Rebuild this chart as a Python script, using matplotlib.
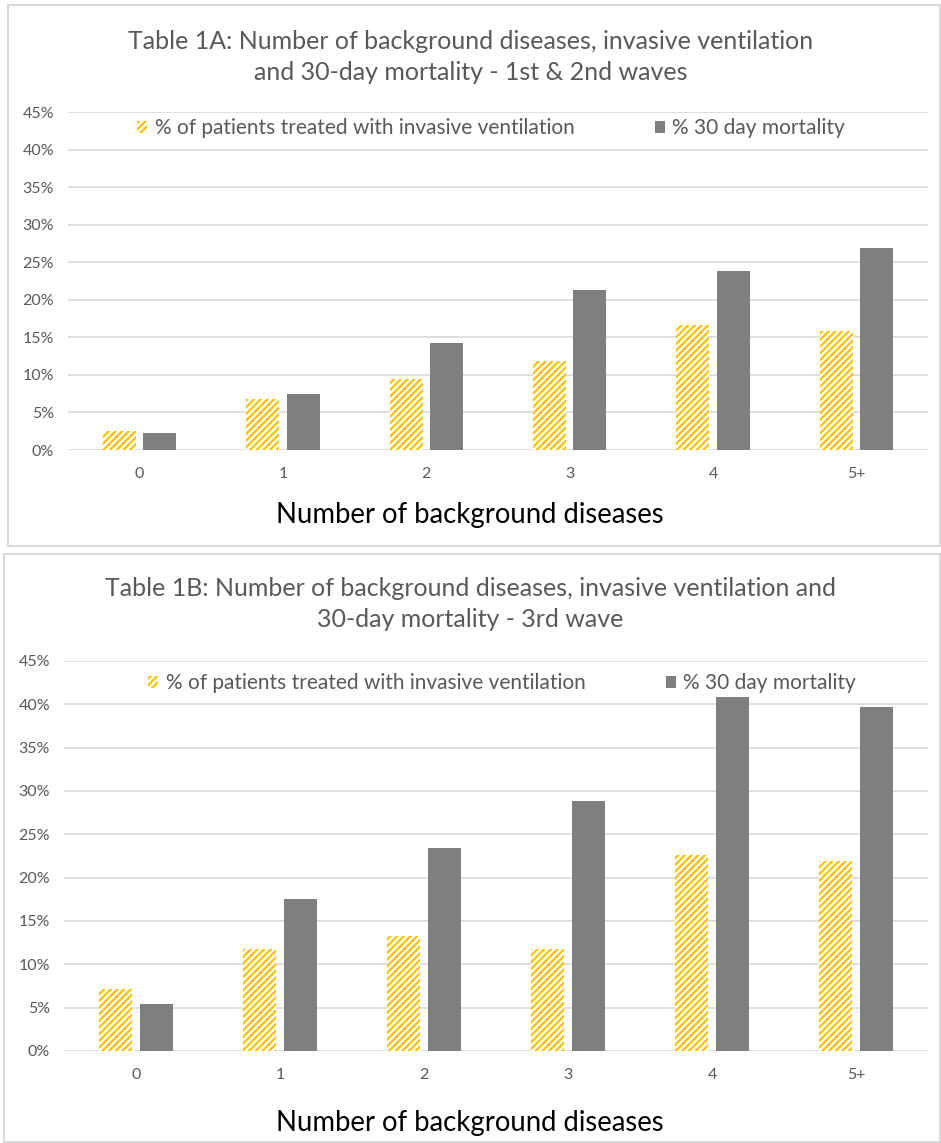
import numpy as np
import matplotlib.pyplot as plt
from matplotlib.patches import Rectangle, Patch

plt.rcParams['font.family'] = ['Lato', 'DejaVu Sans']
plt.rcParams['hatch.linewidth'] = 1.6

# data (percent)
categories = ['0', '1', '2', '3', '4', '5+']
vent_1a = [2.5, 6.8, 9.4, 11.8, 16.6, 15.9]
mort_1a = [2.2, 7.5, 14.2, 21.3, 23.8, 26.9]
vent_1b = [7.2, 11.8, 13.3, 11.8, 22.6, 21.9]
mort_1b = [5.4, 17.5, 23.4, 28.8, 40.8, 39.7]

title_1a = "Table 1A: Number of background diseases, invasive ventilation\nand 30-day mortality - 1st & 2nd waves"
title_1b = "Table 1B: Number of background diseases, invasive ventilation and\n30-day mortality - 3rd wave"
xlabel = "Number of background diseases"
lab_vent = "% of patients treated with invasive ventilation"
lab_mort = "% 30 day mortality"

yellow = '#FFC000'
grey = '#7F7F7F'
txt = '#595959'
W, H = 941, 1143

fig = plt.figure(figsize=(W / 100, H / 100), dpi=100)
fig.patch.set_facecolor('white')


def fx(px):
    return px / W


def fy(py):
    return 1 - py / H


def panel(rect, vent, mort, title, title_y, legend_xy, xlabel_y, box):
    ax = fig.add_axes(rect)
    x = np.arange(len(categories))
    ax.bar(x - 0.14, vent, width=0.23, color='white', edgecolor=yellow,
           hatch='/////', linewidth=0)
    ax.bar(x + 0.14, mort, width=0.23, color=grey, linewidth=0)
    ax.set_xlim(-0.5, 5.5)
    ax.set_ylim(0, 45)
    ax.set_yticks(np.arange(0, 46, 5))
    ax.set_yticklabels([f"{v}%" for v in range(0, 46, 5)])
    ax.set_xticks(x)
    ax.set_xticklabels(categories)
    ax.tick_params(length=0, labelsize=11.5, labelcolor=txt, pad=10)
    ax.tick_params(axis='x', pad=12)
    ax.grid(axis='y', color='#D9D9D9', linewidth=1.2)
    ax.set_axisbelow(True)
    for s in ax.spines.values():
        s.set_visible(False)

    fig.text(0.5, fy(title_y), title, ha='center', va='center', fontsize=18,
             color=txt, linespacing=1.4)
    fig.text(fx(470), fy(xlabel_y), xlabel, ha='center', va='center',
             fontsize=19.8, color='black')
    handles = [Patch(facecolor='white', edgecolor=yellow, hatch='/////', linewidth=0),
               Patch(facecolor=grey, linewidth=0)]
    fig.legend(handles, [lab_vent, lab_mort], loc='center', ncol=2,
               bbox_to_anchor=(fx(legend_xy[0]), fy(legend_xy[1])), frameon=False,
               fontsize=15, labelcolor=txt, handlelength=0.5, handleheight=0.5,
               handletextpad=0.35, columnspacing=3.85)
    bx0, by0, bx1, by1 = box
    fig.add_artist(Rectangle((fx(bx0), fy(by1)), fx(bx1) - fx(bx0), fy(by0) - fy(by1),
                             transform=fig.transFigure, fill=False,
                             edgecolor='#D9D9D9', linewidth=1.5))
    return ax


panel([fx(68), fy(450), fx(928) - fx(68), fy(112) - fy(450)],
      vent_1a, mort_1a, title_1a, 57, (491, 128), 515, (8, 5, 940, 546))
panel([fx(64), fy(1051), fx(928) - fx(64), fy(661) - fy(1051)],
      vent_1b, mort_1b, title_1b, 604, (502, 683), 1123, (4, 554, 940, 1142))

fig.savefig('out.png', dpi=100)
